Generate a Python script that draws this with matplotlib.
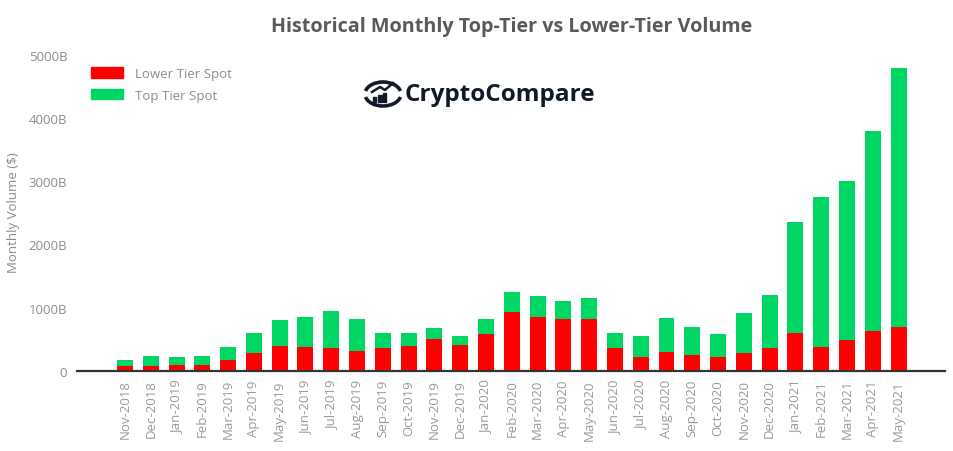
import matplotlib
matplotlib.use("Agg")
import matplotlib.pyplot as plt
from matplotlib.patches import Patch, Arc, Rectangle
import numpy as np

# maanden en volumes (miljard $)
months = ['Nov-2018', 'Dec-2018', 'Jan-2019', 'Feb-2019', 'Mar-2019', 'Apr-2019', 'May-2019',
          'Jun-2019', 'Jul-2019', 'Aug-2019', 'Sep-2019', 'Oct-2019', 'Nov-2019', 'Dec-2019',
          'Jan-2020', 'Feb-2020', 'Mar-2020', 'Apr-2020', 'May-2020', 'Jun-2020', 'Jul-2020',
          'Aug-2020', 'Sep-2020', 'Oct-2020', 'Nov-2020', 'Dec-2020', 'Jan-2021', 'Feb-2021',
          'Mar-2021', 'Apr-2021', 'May-2021']
lower_tier = [75, 75, 90, 90, 170, 280, 391, 375, 359, 312, 359, 391, 502, 407,
              581, 929, 855, 824, 824, 359, 217, 296, 249, 217, 280, 359, 597, 375,
              486, 629, 692]
total_volume = [170, 233, 212, 233, 375, 597, 803, 850, 945, 819, 597, 597, 676, 550,
                819, 1246, 1182, 1103, 1150, 597, 550, 835, 692, 576, 914, 1198, 2352, 2748,
                3002, 3794, 4793]
top_tier = [t - l for t, l in zip(total_volume, lower_tier)]

y_ticks = [0, 1000, 2000, 3000, 4000, 5000]
y_tick_labels = ['0', '1000B', '2000B', '3000B', '4000B', '5000B']

red = '#ff0000'
green = '#00d663'
grey = '#8c8c8c'
font = 'Open Sans'


def draw_logo(fig):
    # eenvoudig CryptoCompare logo: ring met staafjes en de naam
    W, H = 954, 452
    cx, cy = 383 / W, 1 - 95 / H
    for t1, t2 in [(20, 160), (200, 340)]:
        fig.patches.append(Arc((cx, cy), 36 / W, 24 / H, theta1=t1, theta2=t2,
                               transform=fig.transFigure, color='#101a2b', lw=2.6))
    for i, h in enumerate([5, 7, 9]):
        x0 = (373 + i * 5) / W
        fig.patches.append(Rectangle((x0, 1 - 103 / H), 3.5 / W, h / H,
                                     transform=fig.transFigure, color='#101a2b'))
    fig.lines.append(plt.Line2D([372 / W, 380 / W, 385 / W, 393 / W],
                                [1 - 93 / H, 1 - 88 / H, 1 - 91 / H, 1 - 84 / H],
                                transform=fig.transFigure, color='#101a2b', lw=1.8))
    fig.text(405 / W, 1 - 95 / H, 'CryptoCompare', fontsize=17.5, fontweight='bold',
             family=font, color='#101a2b', va='center', ha='left')


def main():
    fig = plt.figure(figsize=(9.54, 4.52), dpi=100)
    ax = fig.add_axes([77 / 954, 1 - 371.7 / 452, (945 - 77) / 954, (371.7 - 56) / 452])

    x = np.arange(len(months))
    ax.bar(x, lower_tier, width=0.62, color=red, label='Lower Tier Spot')
    ax.bar(x, top_tier, width=0.62, bottom=lower_tier, color=green, label='Top Tier Spot')

    ax.set_xlim(-1.86, 31.8)
    ax.set_ylim(0, 5000)
    ax.set_xticks(x)
    ax.set_xticklabels(months, rotation=90, fontsize=9.5, color='#9a9a9a', family=font)
    ax.set_yticks(y_ticks)
    ax.set_yticklabels(y_tick_labels, fontsize=9.5, color=grey, family=font)
    ax.tick_params(axis='both', length=0)
    ax.tick_params(axis='y', pad=7)
    ax.tick_params(axis='x', pad=6)

    for side in ['top', 'right', 'left']:
        ax.spines[side].set_visible(False)
    ax.spines['bottom'].set_color('#333333')
    ax.spines['bottom'].set_linewidth(1.6)

    fig.text(14 / 954, 1 - 213 / 452, 'Monthly Volume ($)', rotation=90, fontsize=9.5,
             color=grey, family=font, ha='center', va='center')
    fig.text(512 / 954, 1 - 27 / 452, 'Historical Monthly Top-Tier vs Lower-Tier Volume',
             fontsize=14.2, fontweight='bold', color='#5a5a5a', family=font,
             ha='center', va='center')

    handles = [Patch(color=red), Patch(color=green)]
    fig.legend(handles, ['Lower Tier Spot', 'Top Tier Spot'], loc='upper left',
               bbox_to_anchor=(91 / 954, 1 - 68 / 452), frameon=False, borderpad=0,
               borderaxespad=0, handlelength=2.4, handleheight=0.83, handletextpad=0.9,
               labelspacing=0.67, prop={'family': font, 'size': 9.5}, labelcolor=grey)

    draw_logo(fig)

    fig.savefig('out.png', dpi=100)


if __name__ == "__main__":
    main()
